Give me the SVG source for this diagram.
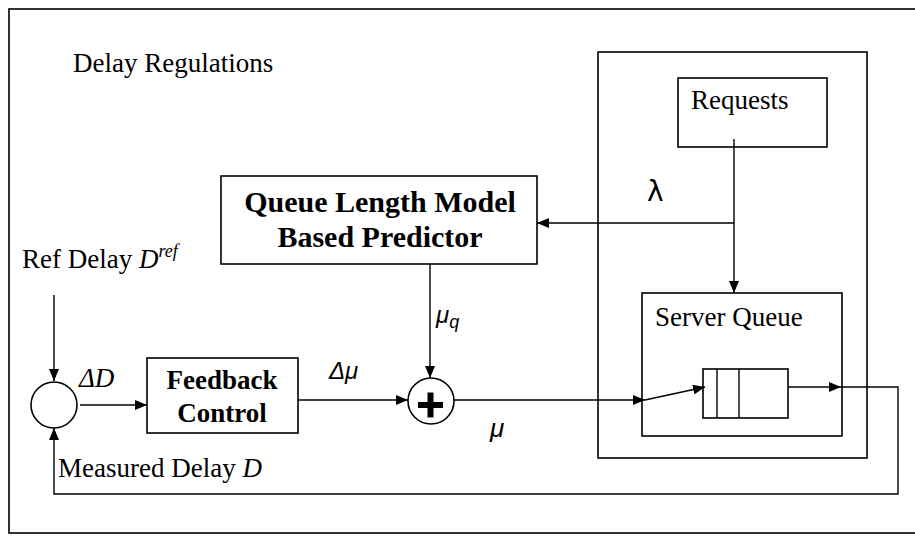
<svg xmlns="http://www.w3.org/2000/svg" width="915" height="536" viewBox="0 0 915 536">
<defs>
<style>
.ln{fill:none;stroke:#000;stroke-width:1.4}
.bx{fill:#fff;stroke:#000;stroke-width:1.6}
.t{font-family:"Liberation Serif","Times New Roman",serif;font-size:27px;fill:#000}
.b{font-family:"Liberation Serif","Times New Roman",serif;font-weight:bold;fill:#000}
.m{font-family:"Liberation Sans",Arial,sans-serif;font-style:italic;fill:#000}
</style>
<marker id="ah" viewBox="0 0 12 10" refX="12" refY="5" markerWidth="12" markerHeight="10" markerUnits="userSpaceOnUse" orient="auto">
<path d="M0,0 L12,5 L0,10 Z" fill="#000"/>
</marker>
</defs>
<rect width="915" height="536" fill="#fff"/>
<rect id="frame" x="9" y="9" width="920" height="524" fill="none" stroke="#000" stroke-width="1.6"/>
<text class="t" x="73" y="72">Delay Regulations</text>

<g id="system">
<rect class="bx" x="598" y="52" width="269" height="406" fill="none"/>
</g>
<g id="requests">
<rect class="bx" x="678" y="78" width="149" height="69"/>
<text class="t" x="691" y="109">Requests</text>
</g>
<g id="server-queue">
<rect class="bx" x="642" y="293" width="200" height="143"/>
<text class="t" x="655" y="326">Server Queue</text>
<rect class="bx" x="703" y="369" width="85" height="49"/>
<line class="ln" x1="717" y1="369" x2="717" y2="418"/>
<line class="ln" x1="739" y1="369" x2="739" y2="418"/>
</g>
<g id="predictor">
<rect class="bx" x="221" y="176" width="316" height="88"/>
<text class="b" x="380" y="212" font-size="30" text-anchor="middle">Queue Length Model</text>
<text class="b" x="380" y="247" font-size="30" text-anchor="middle">Based Predictor</text>
</g>
<g id="feedback">
<rect class="bx" x="147" y="358" width="151" height="75"/>
<text class="b" x="222" y="389" font-size="27" text-anchor="middle">Feedback</text>
<text class="b" x="222" y="422" font-size="27" text-anchor="middle">Control</text>
</g>
<g id="comparator">
<circle class="bx" cx="54" cy="405" r="23"/>
</g>
<g id="summer">
<circle class="bx" cx="431" cy="401" r="23"/>
<rect x="418" y="402" width="25" height="6" fill="#000"/>
<rect x="427.5" y="392.5" width="6" height="25" fill="#000"/>
</g>

<g id="connectors">
<line class="ln" x1="54" y1="295" x2="54" y2="381" marker-end="url(#ah)"/>
<line class="ln" x1="80" y1="405" x2="147" y2="405" marker-end="url(#ah)"/>
<line class="ln" x1="298" y1="400" x2="408" y2="400" marker-end="url(#ah)"/>
<line class="ln" x1="430" y1="264" x2="430" y2="378" marker-end="url(#ah)"/>
<line class="ln" x1="454" y1="400" x2="645" y2="400" marker-end="url(#ah)"/>
<line class="ln" x1="645" y1="400" x2="705" y2="387" marker-end="url(#ah)"/>
<line class="ln" x1="734" y1="139" x2="734" y2="293" marker-end="url(#ah)"/>
<polyline class="ln" points="734,223 537,223" marker-end="url(#ah)"/>
<line class="ln" x1="788" y1="387" x2="841" y2="387" marker-end="url(#ah)"/>
<polyline class="ln" points="841,387 898,387 898,494 54,494 54,428" marker-end="url(#ah)"/>
</g>

<g id="labels">
<text class="t" x="22" y="268">Ref Delay <tspan font-style="italic">D</tspan><tspan font-style="italic" font-size="18" dy="-11">ref</tspan></text>
<text class="t" x="58" y="477">Measured Delay <tspan font-style="italic">D</tspan></text>
<text class="t" x="79" y="387" font-size="22" font-style="italic">ΔD</text>
<text class="m" x="329" y="379" font-size="24">Δμ</text>
<text class="m" x="490" y="437" font-size="26">μ</text>
<text class="m" x="436" y="323" font-size="24">μ<tspan font-size="18" dy="5">q</tspan></text>
<text x="647" y="201" font-family="'DejaVu Sans','Liberation Sans',sans-serif" font-size="28" fill="#000">λ</text>
</g>
</svg>
